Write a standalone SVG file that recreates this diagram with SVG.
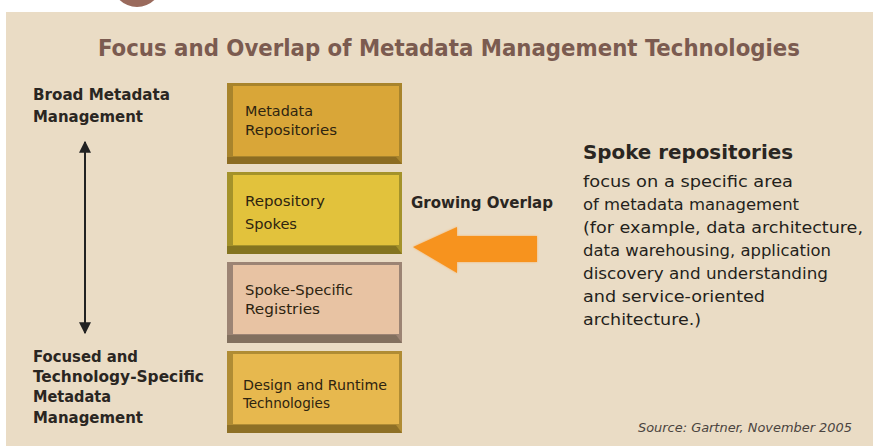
<svg xmlns="http://www.w3.org/2000/svg" width="873" height="446" viewBox="0 0 873 446">
<style>
.t{font-family:"DejaVu Sans Condensed","Liberation Sans Narrow","Liberation Sans",sans-serif;}
.lbl{font-size:15px;fill:#2a2622;font-weight:bold;}
.box{font-size:14.5px;fill:#2e2410;}
.rt{font-size:16.5px;fill:#241f1b;}
</style>
<defs>
<marker id="ah" viewBox="0 0 10 10" refX="9" refY="5" markerWidth="12" markerHeight="18" markerUnits="userSpaceOnUse" orient="auto-start-reverse">
<path d="M0,0 L10,5 L0,10 z" fill="#222"/>
</marker>
<filter id="glow" x="-20%" y="-40%" width="140%" height="180%"><feGaussianBlur stdDeviation="1.2"/></filter>
</defs>
<rect width="873" height="446" fill="#ffffff"/>
<circle cx="137" cy="-18" r="25" fill="#9a6a5c"/>
<rect x="6" y="12" width="867" height="434" fill="#eadcc5"/>
<text class="t" x="449" y="56" text-anchor="middle" font-size="23" font-weight="bold" fill="#7b5b50" textLength="702" lengthAdjust="spacingAndGlyphs">Focus and Overlap of Metadata Management Technologies</text>

<g id="broad-label">
<text class="t lbl" x="33" y="100" textLength="137" lengthAdjust="spacingAndGlyphs">Broad Metadata</text>
<text class="t lbl" x="33" y="122" textLength="110" lengthAdjust="spacingAndGlyphs">Management</text>
</g>
<g id="focused-label">
<text class="t lbl" x="33" y="362" textLength="105" lengthAdjust="spacingAndGlyphs">Focused and</text>
<text class="t lbl" x="33" y="382" textLength="171" lengthAdjust="spacingAndGlyphs">Technology-Specific</text>
<text class="t lbl" x="33" y="402" textLength="78" lengthAdjust="spacingAndGlyphs">Metadata</text>
<text class="t lbl" x="33" y="423" textLength="110" lengthAdjust="spacingAndGlyphs">Management</text>
</g>

<g id="box1">
<rect x="227" y="83" width="175" height="81" fill="#a8842c"/>
<polygon points="227,157 396,157 402,164 227,164" fill="#8c6c22"/>
<rect x="233" y="86" width="166" height="70" fill="#d9a638"/>
<text class="t box" x="245" y="116" textLength="68" lengthAdjust="spacingAndGlyphs">Metadata</text>
<text class="t box" x="245" y="135" textLength="92" lengthAdjust="spacingAndGlyphs">Repositories</text>
</g>
<g id="box2">
<rect x="227" y="172" width="175" height="82" fill="#a4922a"/>
<polygon points="227,246 396,246 402,254 227,254" fill="#847420"/>
<rect x="233" y="175" width="166" height="70" fill="#e2c23c"/>
<text class="t box" x="245" y="206" textLength="80" lengthAdjust="spacingAndGlyphs">Repository</text>
<text class="t box" x="245" y="229" textLength="52" lengthAdjust="spacingAndGlyphs">Spokes</text>
</g>
<g id="box3">
<rect x="227" y="262" width="175" height="81" fill="#9c8474"/>
<polygon points="227,335 396,335 402,343 227,343" fill="#82705f"/>
<rect x="233" y="265" width="166" height="69" fill="#e8c3a3"/>
<text class="t box" x="245" y="295" textLength="108" lengthAdjust="spacingAndGlyphs">Spoke-Specific</text>
<text class="t box" x="245" y="314" textLength="75" lengthAdjust="spacingAndGlyphs">Registries</text>
</g>
<g id="box4">
<rect x="227" y="351" width="175" height="82" fill="#b08c34"/>
<polygon points="227,425 396,425 402,433 227,433" fill="#8e7026"/>
<rect x="233" y="354" width="166" height="70" fill="#e7b84e"/>
<text class="t box" x="243" y="390" textLength="144" lengthAdjust="spacingAndGlyphs">Design and Runtime</text>
<text class="t box" x="243" y="408" textLength="87" lengthAdjust="spacingAndGlyphs">Technologies</text>
</g>

<g id="connectors">
<line x1="85" y1="142" x2="85" y2="333" stroke="#222" stroke-width="2" marker-start="url(#ah)" marker-end="url(#ah)"/>
<polygon points="413,247 457,227 457,236 537,236 537,262 457,262 457,273" fill="#f9b060" filter="url(#glow)"/>
<polygon points="413,247 457,227 457,236 537,236 537,262 457,262 457,273" fill="#f7931e"/>
</g>

<g id="growing-overlap">
<text class="t" x="411" y="208" font-size="15" font-weight="bold" fill="#2a2622" textLength="142" lengthAdjust="spacingAndGlyphs">Growing Overlap</text>
</g>

<g id="spoke-text">
<text class="t" x="583" y="159" font-size="20" font-weight="bold" fill="#2a2622" textLength="210" lengthAdjust="spacingAndGlyphs">Spoke repositories</text>
<text class="t rt" x="583" y="187" textLength="210" lengthAdjust="spacingAndGlyphs">focus on a specific area</text>
<text class="t rt" x="583" y="210" textLength="216" lengthAdjust="spacingAndGlyphs">of metadata management</text>
<text class="t rt" x="583" y="233" textLength="280" lengthAdjust="spacingAndGlyphs">(for example, data architecture,</text>
<text class="t rt" x="583" y="256" textLength="248" lengthAdjust="spacingAndGlyphs">data warehousing, application</text>
<text class="t rt" x="583" y="279" textLength="245" lengthAdjust="spacingAndGlyphs">discovery and understanding</text>
<text class="t rt" x="583" y="302" textLength="182" lengthAdjust="spacingAndGlyphs">and service-oriented</text>
<text class="t rt" x="583" y="325" textLength="118" lengthAdjust="spacingAndGlyphs">architecture.)</text>
</g>

<text class="t" x="638" y="432" font-size="12" font-style="italic" fill="#4a4440" textLength="214" lengthAdjust="spacingAndGlyphs">Source: Gartner, November 2005</text>
</svg>
